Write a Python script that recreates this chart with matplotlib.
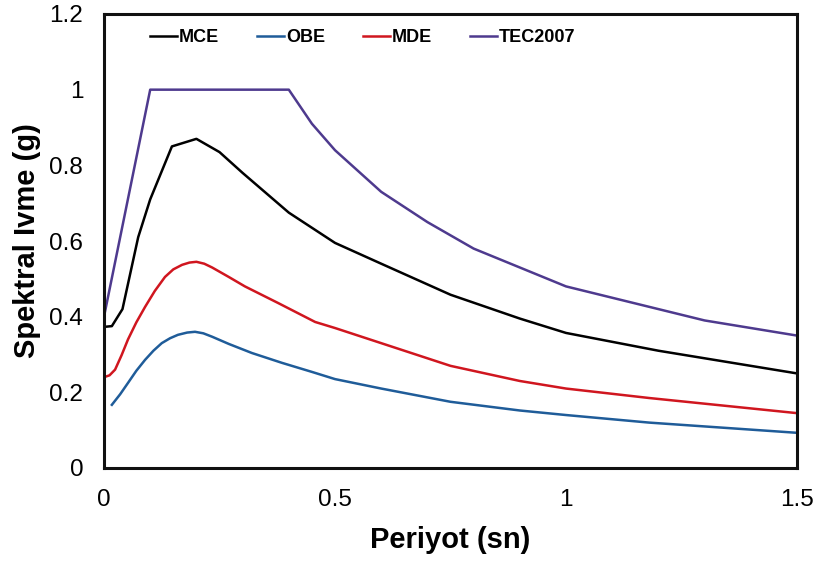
import matplotlib
matplotlib.use("Agg")
import matplotlib.pyplot as plt

# Data
mce_T = [0, 0.017, 0.04, 0.074, 0.1, 0.147, 0.2, 0.25, 0.3, 0.4, 0.5, 0.6, 0.75, 0.9, 1.0, 1.2, 1.5]
mce_V = [0.373, 0.375, 0.42, 0.61, 0.71, 0.85, 0.87, 0.835, 0.78, 0.675, 0.595, 0.54, 0.458, 0.395, 0.357, 0.31, 0.25]

obe_T = [0.017, 0.035, 0.052, 0.07, 0.089, 0.107, 0.125, 0.143, 0.16, 0.18, 0.197, 0.215, 0.234, 0.27, 0.32, 0.385, 0.45,
         0.5, 0.6, 0.75, 0.9, 1.0, 1.18, 1.5]
obe_V = [0.167, 0.195, 0.225, 0.257, 0.286, 0.31, 0.33, 0.343, 0.352, 0.358, 0.36, 0.356, 0.347, 0.328, 0.304, 0.278, 0.254,
         0.235, 0.21, 0.175, 0.152, 0.14, 0.12, 0.093]

mde_T = [0, 0.012, 0.024, 0.038, 0.052, 0.07, 0.089, 0.11, 0.132, 0.15, 0.169, 0.185, 0.2, 0.217, 0.234, 0.27, 0.305,
         0.377, 0.457, 0.5, 0.6, 0.75, 0.9, 1.0, 1.18, 1.5]
mde_V = [0.24, 0.245, 0.26, 0.298, 0.34, 0.385, 0.426, 0.468, 0.505, 0.525, 0.537, 0.543, 0.545, 0.54, 0.53, 0.505, 0.48,
         0.436, 0.386, 0.37, 0.33, 0.27, 0.23, 0.21, 0.185, 0.145]

tec_T = [0, 0.1, 0.4, 0.45, 0.5, 0.6, 0.7, 0.8, 0.9, 1.0, 1.1, 1.2, 1.3, 1.4, 1.5]
tec_V = [0.40, 1.0, 1.0, 0.91, 0.84, 0.73, 0.65, 0.58, 0.53, 0.48, 0.45, 0.42, 0.39, 0.37, 0.35]

x_ticks = [0, 0.5, 1, 1.5]
x_tick_labels = ["0", "0.5", "1", "1.5"]
y_ticks = [0, 0.2, 0.4, 0.6, 0.8, 1.0, 1.2]
y_tick_labels = ["0", "0.2", "0.4", "0.6", "0.8", "1", "1.2"]

plt.rcParams['font.family'] = ['Liberation Sans', 'DejaVu Sans']

fig = plt.figure(figsize=(8.21, 5.63), dpi=100)
ax = fig.add_axes([104/821, 1 - 468/563, 693/821, 454/563])

lw = 1.8
ax.plot(mce_T, mce_V, color="#000000", lw=lw, label="MCE")
ax.plot(obe_T, obe_V, color="#1f5c99", lw=lw, label="OBE")
ax.plot(mde_T, mde_V, color="#d0161f", lw=lw, label="MDE")
ax.plot(tec_T, tec_V, color="#4e3a8e", lw=lw, label="TEC2007")

ax.set_xlim(0, 1.5)
ax.set_ylim(0, 1.2)
ax.set_xticks(x_ticks)
ax.set_xticklabels(x_tick_labels)
ax.set_yticks(y_ticks)
ax.set_yticklabels(y_tick_labels)
ax.tick_params(length=0, labelsize=17.5, pad=15)

for s in ax.spines.values():
    s.set_linewidth(2.2)
    s.set_color("#111111")

ax.set_xlabel("Periyot (sn)", fontsize=21, fontweight="bold", labelpad=11)
ax.set_ylabel("Spektral Ivme (g)", fontsize=21, fontweight="bold", labelpad=6)

leg = ax.legend(loc="center left", bbox_to_anchor=((150 - 104) / 693, (468 - 38) / 454),
                ncol=4, frameon=False, borderpad=0, borderaxespad=0,
                handlelength=1.5, handletextpad=0.1, columnspacing=2.1,
                prop={"size": 13, "weight": "bold"})

fig.savefig("out.png", dpi=100)
